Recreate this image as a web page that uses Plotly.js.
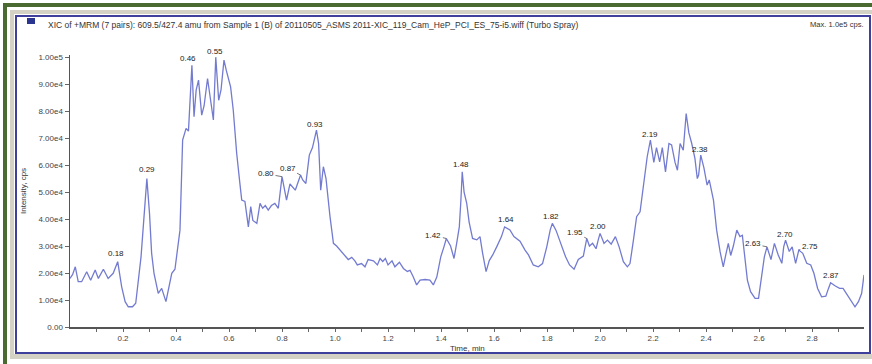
<!DOCTYPE html>
<html>
<head>
<meta charset="utf-8">
<script src="https://cdn.plot.ly/plotly-3.0.1.min.js"></script>
<style>
  html, body { margin: 0; padding: 0; background: #ffffff; }
  #wrap { position: relative; width: 872px; height: 364px; overflow: hidden; background: #ffffff; }
  .blk { position: absolute; box-sizing: border-box; }
  #greenLeft { left: 3px; top: 3px; width: 4px; height: 361px; background: #4b6a31; }
  #greenTop { left: 3px; top: 3px; width: 869px; height: 4px; background: #4b6a31; }
  #bevel { left: 10px; top: 10px; width: 862px; height: 349px;
           border-left: 4px solid #d4d1c5; border-top: 4px solid #d4d1c5; border-bottom: 5px solid #d4d1c5; }
  #panel { left: 15px; top: 15px; width: 856px; height: 339px; border: 2px solid #3e409c; background: #ffffff; }
  #icon { left: 27px; top: 18px; width: 8px; height: 6px; background: #2a3590; }
  #chart { position: absolute; left: 0; top: 0; width: 872px; height: 364px; }
</style>
</head>
<body>
<div id="wrap">
  <div class="blk" id="greenLeft"></div>
  <div class="blk" id="greenTop"></div>
  <div class="blk" id="bevel"></div>
  <div class="blk" id="panel"></div>
  <div class="blk" id="icon"></div>
  <div id="chart"></div>
</div>
<script>
// Retention time (min) and intensity (cps) of the XIC trace
const time = [
  0.000, 0.010, 0.020, 0.031, 0.044, 0.063, 0.078, 0.095, 0.107, 0.126,
  0.144, 0.163, 0.180, 0.195, 0.208, 0.220, 0.236, 0.248, 0.268, 0.290,
  0.300, 0.308, 0.317, 0.333, 0.346, 0.362, 0.384, 0.396, 0.415, 0.425,
  0.438, 0.447, 0.460, 0.468, 0.476, 0.485, 0.497, 0.506, 0.519, 0.528,
  0.541, 0.550, 0.561, 0.570, 0.581, 0.590, 0.606, 0.616, 0.629, 0.641,
  0.648, 0.660, 0.673, 0.682, 0.690, 0.705, 0.717, 0.727, 0.737, 0.748,
  0.760, 0.773, 0.786, 0.800, 0.808, 0.817, 0.830, 0.838, 0.850, 0.870,
  0.878, 0.890, 0.903, 0.915, 0.930, 0.938, 0.946, 0.956, 0.966, 0.981,
  0.994, 1.006, 1.019, 1.038, 1.050, 1.063, 1.075, 1.084, 1.100, 1.113,
  1.125, 1.145, 1.160, 1.170, 1.180, 1.190, 1.200, 1.215, 1.226, 1.243,
  1.258, 1.273, 1.283, 1.295, 1.308, 1.321, 1.340, 1.358, 1.371, 1.384,
  1.399, 1.411, 1.420, 1.436, 1.449, 1.459, 1.469, 1.475, 1.480, 1.487,
  1.497, 1.506, 1.519, 1.535, 1.547, 1.557, 1.570, 1.582, 1.595, 1.610,
  1.628, 1.640, 1.660, 1.675, 1.698, 1.717, 1.730, 1.748, 1.767, 1.783,
  1.799, 1.812, 1.820, 1.834, 1.852, 1.870, 1.885, 1.902, 1.918, 1.937,
  1.950, 1.960, 1.972, 1.985, 1.993, 2.000, 2.015, 2.028, 2.042, 2.058,
  2.072, 2.088, 2.103, 2.113, 2.126, 2.138, 2.151, 2.164, 2.178, 2.190,
  2.203, 2.213, 2.225, 2.235, 2.247, 2.260, 2.270, 2.283, 2.292, 2.302,
  2.314, 2.325, 2.335, 2.346, 2.358, 2.367, 2.372, 2.380, 2.392, 2.404,
  2.412, 2.428, 2.440, 2.453, 2.465, 2.475, 2.484, 2.493, 2.503, 2.516,
  2.528, 2.537, 2.547, 2.556, 2.568, 2.585, 2.598, 2.610, 2.620, 2.630,
  2.645, 2.658, 2.672, 2.686, 2.693, 2.700, 2.714, 2.725, 2.738, 2.750,
  2.765, 2.780, 2.795, 2.807, 2.821, 2.836, 2.852, 2.862, 2.870, 2.888,
  2.904, 2.917, 2.928, 2.943, 2.962, 2.975, 2.987, 2.996
];
const intensity = [
  18000, 19500, 22300, 16800, 16800, 20500, 17300, 21100, 18000, 21400,
  18000, 19900, 24200, 14900, 9400, 7500, 7500, 8800, 26000, 55000,
  42100, 27300, 19900, 12500, 14300, 9400, 19900, 21400, 35900, 69300,
  73600, 72600, 97000, 77900, 87800, 91500, 78500, 82000, 92100, 86000,
  76700, 100000, 84000, 88000, 98900, 95000, 89000, 80400, 64300, 53200,
  47000, 46500, 37100, 44600, 39500, 38400, 45800, 44000, 45000, 43300,
  45000, 45800, 44000, 55700, 52000, 47000, 53000, 52000, 50700, 56300,
  54500, 53200, 63700, 66500, 73000, 68000, 50700, 59400, 55000, 41000,
  31000, 30000, 28500, 26000, 25000, 25800, 24500, 23000, 23500, 22300,
  25000, 24500, 23000, 25400, 24300, 25400, 23000, 24500, 22300, 24000,
  21700, 20600, 21000, 18600, 15600, 17400, 17600, 17400, 15600, 18500,
  26000, 29700, 32800, 30000, 25400, 31000, 37100, 47000, 57500, 50000,
  45800, 38900, 32800, 32300, 33500, 27300, 20500, 24600, 26700, 29700,
  33500, 37100, 36000, 33500, 31800, 28500, 26700, 23000, 22300, 23500,
  29700, 36000, 38400, 35800, 31000, 26000, 23000, 21400, 25000, 26300,
  32800, 30000, 31000, 29000, 32200, 34700, 31000, 32200, 30700, 33500,
  29700, 24200, 22300, 23500, 32200, 40900, 42700, 53200, 63100, 69300,
  61000, 66500, 61200, 66500, 57500, 68000, 67500, 61000, 58100, 68000,
  65500, 79100, 72000, 68000, 62500, 55000, 56300, 63700, 59000, 52600,
  54500, 47000, 35900, 27900, 22300, 27000, 31000, 26500, 30000, 35900,
  33500, 34000, 26000, 17400, 13100, 10600, 10600, 18600, 26000, 29700,
  25000, 31000, 26800, 23600, 29700, 32200, 28000, 29700, 23600, 28500,
  27300, 23600, 23000, 19900, 14300, 11200, 11400, 14300, 16400, 15200,
  14300, 14300, 12700, 10300, 7500, 9400, 12400, 19300
];

// Apex retention times that carry a label
const peakTimes = [0.18, 0.29, 0.46, 0.55, 0.80, 0.87, 0.93, 1.42, 1.48, 1.64,
                   1.82, 1.95, 2.00, 2.19, 2.38, 2.63, 2.70, 2.75, 2.87];

// Axis tick labels
const yTickVals = [0, 10000, 20000, 30000, 40000, 50000, 60000, 70000, 80000, 90000, 100000];
const yTickText = ["0.00", "1.00e4", "2.00e4", "3.00e4", "4.00e4", "5.00e4",
                   "6.00e4", "7.00e4", "8.00e4", "9.00e4", "1.00e5"];
const xTickVals = [0.1, 0.2, 0.3, 0.4, 0.5, 0.6, 0.7, 0.8, 0.9, 1.0, 1.1, 1.2, 1.3, 1.4,
                   1.5, 1.6, 1.7, 1.8, 1.9, 2.0, 2.1, 2.2, 2.3, 2.4, 2.5, 2.6, 2.7, 2.8, 2.9];
const xTickText = ["", "0.2", "", "0.4", "", "0.6", "", "0.8", "", "1.0", "", "1.2", "", "1.4",
                   "", "1.6", "", "1.8", "", "2.0", "", "2.2", "", "2.4", "", "2.6", "", "2.8", ""];

const headerText = "XIC of +MRM (7 pairs): 609.5/427.4 amu from Sample 1 (B) of 20110505_ASMS 2011-XIC_119_Cam_HeP_PCI_ES_75-i5.wiff (Turbo Spray)";
const maxText = "Max. 1.0e5 cps.";

// ---- layout geometry (pixels) ----
const W = 872, H = 364;
const M = { l: 70, r: 8, t: 55, b: 37 };
const plotW = W - M.l - M.r, plotH = H - M.t - M.b;
const px2x = px => (px - M.l) / plotW;
const px2y = py => (H - M.b - py) / plotH;

const FONT = "Liberation Sans, Arial, sans-serif";

// label offsets (px) of each apex label relative to its apex; third flag = short leader line
const labelOffset = {
  "0.18": [-2, -8], "0.29": [0, -9], "0.46": [-4, -7], "0.55": [-1, -6],
  "0.80": [-16, -3, true], "0.87": [-13, -7, true], "0.93": [-1, -6],
  "1.42": [-13, -3, true], "1.48": [-1, -7], "1.64": [1, -7], "1.82": [-1, -7],
  "1.95": [-12, -6, true], "2.00": [-2, -7], "2.19": [0, -6], "2.38": [-1, -6],
  "2.63": [-14, -3, true], "2.70": [-1, -6], "2.75": [11, -4, true], "2.87": [0, -7]
};

const annotations = [];
peakTimes.forEach(pt => {
  const i = time.findIndex(t => Math.abs(t - pt) < 1e-9);
  const key = pt.toFixed(2);
  const off = labelOffset[key] || [0, -7];
  annotations.push({
    x: pt, y: intensity[i], xref: "x", yref: "y",
    text: key, showarrow: true, arrowhead: 0, arrowwidth: 0.8, standoff: 0,
    arrowcolor: off[2] ? "#555555" : "rgba(0,0,0,0)",
    ax: off[0], ay: off[1],
    font: { family: FONT, size: 8, color: "#222222" }
  });
});

annotations.push(
  { xref: "paper", yref: "paper", x: px2x(46), y: px2y(25), xanchor: "left", yanchor: "middle",
    text: headerText, showarrow: false, font: { family: FONT, size: 8.5, color: "#333333" } },
  { xref: "paper", yref: "paper", x: px2x(866), y: px2y(25), xanchor: "right", yanchor: "middle",
    text: maxText, showarrow: false, font: { family: FONT, size: 7.6, color: "#333333" } },
  { xref: "paper", yref: "paper", x: px2x(467), y: px2y(348), xanchor: "center", yanchor: "middle",
    text: "Time, min", showarrow: false, font: { family: FONT, size: 8, color: "#333333" } },
  { xref: "paper", yref: "paper", x: px2x(23), y: px2y(191), xanchor: "center", yanchor: "middle",
    text: "Intensity, cps", textangle: -90, showarrow: false,
    font: { family: FONT, size: 8, color: "#333333" } }
);

const trace = {
  x: time, y: intensity, type: "scatter", mode: "lines",
  line: { color: "#737bd0", width: 1.3 },
  hoverinfo: "x+y"
};

const layout = {
  width: W, height: H,
  margin: M,
  paper_bgcolor: "rgba(0,0,0,0)",
  plot_bgcolor: "rgba(0,0,0,0)",
  showlegend: false,
  xaxis: {
    range: [0, 2.996], autorange: false, fixedrange: true,
    tickmode: "array", tickvals: xTickVals, ticktext: xTickText,
    ticks: "outside", ticklen: 3, tickwidth: 1, tickcolor: "#666666",
    showgrid: false, zeroline: false,
    showline: true, linecolor: "#555555", linewidth: 1.5,
    tickfont: { family: FONT, size: 8, color: "#444444" }
  },
  yaxis: {
    range: [0, 100800], autorange: false, fixedrange: true,
    tickmode: "array", tickvals: yTickVals, ticktext: yTickText,
    ticks: "outside", ticklen: 4, tickwidth: 1, tickcolor: "#666666",
    showgrid: false, zeroline: false,
    showline: true, linecolor: "#555555", linewidth: 1.5,
    tickfont: { family: FONT, size: 8, color: "#444444" }
  },
  shapes: [
    // baseline marker on the intensity axis
    { type: "rect", xref: "x", yref: "y", xsizemode: "pixel", ysizemode: "pixel",
      xanchor: 0, yanchor: 4600, x0: -5, x1: -1, y0: -3.5, y1: 3.5,
      fillcolor: "#2a3590", line: { width: 0 } }
  ],
  annotations: annotations
};

Plotly.newPlot("chart", [trace], layout, { displayModeBar: false, staticPlot: true });
</script>
</body>
</html>
